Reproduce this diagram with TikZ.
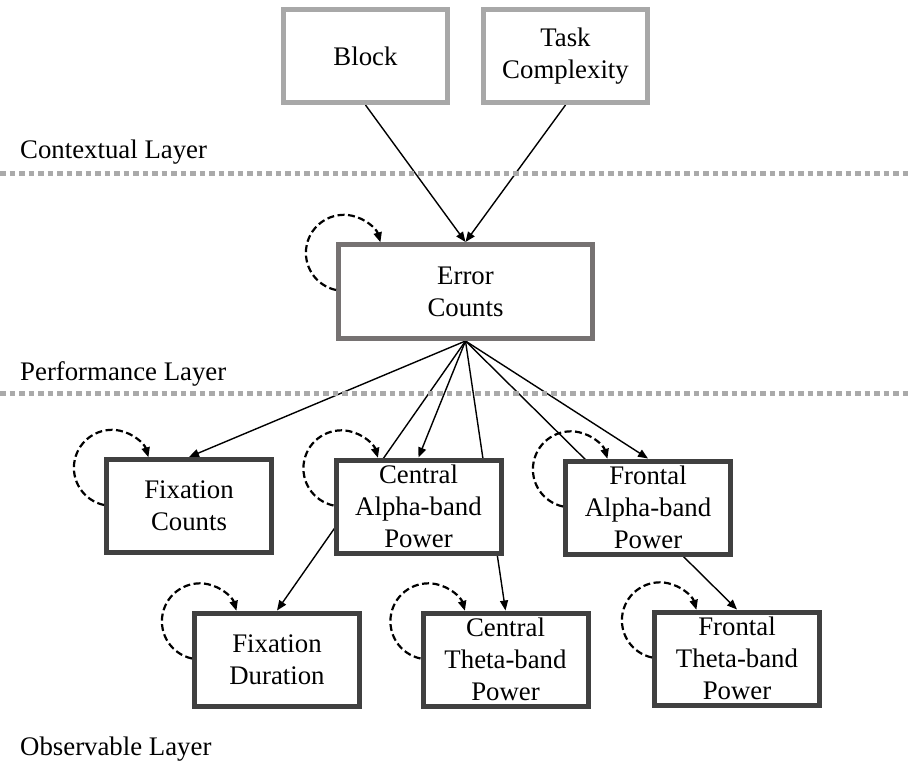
\documentclass[tikz,border=0pt]{standalone}
\usepackage{fontspec}
\setmainfont{Liberation Serif}
\usetikzlibrary{arrows.meta}
\pgfdeclarelayer{edges}
\pgfsetlayers{edges,main}
\definecolor{ctxgray}{RGB}{168,168,168}
\definecolor{perfgray}{RGB}{118,114,114}
\definecolor{obsgray}{RGB}{64,64,64}
\definecolor{sepgray}{RGB}{170,170,170}

\begin{document}
\begin{tikzpicture}[x=1pt,y=1pt,
  box/.style={draw, line width=5pt, fill=white, minimum width=165pt,
    minimum height=93pt, inner sep=0pt, align=center,
    font=\fontsize{26.8}{32}\selectfont},
  ctx/.style={box, draw=ctxgray},
  perf/.style={box, draw=perfgray},
  obs/.style={box, draw=obsgray},
  link/.style={line width=1.4pt, -{Triangle[length=10pt,width=8pt]}},
  selfloop/.style={line width=2.2pt, dash pattern=on 7pt off 3.5pt,
    -{Triangle[length=10pt,width=8pt]}},
  sep/.style={draw=sepgray, line width=5pt, dash pattern=on 5.5pt off 4pt},
  layerlabel/.style={anchor=base west, inner sep=0pt,
    font=\fontsize{26.8}{32}\selectfont}
]
\useasboundingbox (0,0) rectangle (912,-763);

% layer separators and labels
\draw[sep] (0,-173) -- (912,-173);
\draw[sep] (0,-393) -- (912,-393);
\node[layerlabel] (lctx) at (20,-158) {Contextual Layer};
\node[layerlabel] (lperf) at (20,-380) {Performance Layer};
\node[layerlabel] (lobs) at (20,-755) {Observable Layer};

% contextual layer
\node[ctx, minimum width=164pt] (block) at (365.5,-56) {Block};
\node[ctx, minimum width=164pt] (task) at (565.5,-56) {Task\\Complexity};

% performance layer
\node[perf, minimum width=254pt, minimum height=94pt] (err) at (465.5,-291.5) {Error\\Counts};

% observable layer
\node[obs] (fixc) at (189,-506) {Fixation\\Counts};
\node[obs] (calpha) at (418.5,-506.5) {Central\\Alpha-band\\Power};
\node[obs] (falpha) at (648,-507.5) {Frontal\\Alpha-band\\Power};
\node[obs] (fixd) at (277,-659.5) {Fixation\\Duration};
\node[obs] (ctheta) at (505.5,-659.5) {Central\\Theta-band\\Power};
\node[obs] (ftheta) at (737,-658.5) {Frontal\\Theta-band\\Power};

% directed links, kept behind the boxes
\begin{pgfonlayer}{edges}
\draw[link] (block.south) -- (err.north);
\draw[link] (task.south) -- (err.north);
\draw[link] (err.south) -- (fixc.north);
\draw[link] (err.south) -- (calpha.north);
\draw[link] (err.south) -- (falpha.north);
\draw[link] (err.south) -- (fixd.north);
\draw[link] (err.south) -- (ctheta.north);
\draw[link] (err.south) -- (ftheta.north);
\end{pgfonlayer}

% autoregressive self-loops
\foreach \n in {err,fixc,calpha,falpha,fixd,ctheta,ftheta}
  \draw[selfloop] ([yshift=-48pt]\n.north west)
    arc[start angle=258, end angle=16, radius=38pt];
\end{tikzpicture}
\end{document}
